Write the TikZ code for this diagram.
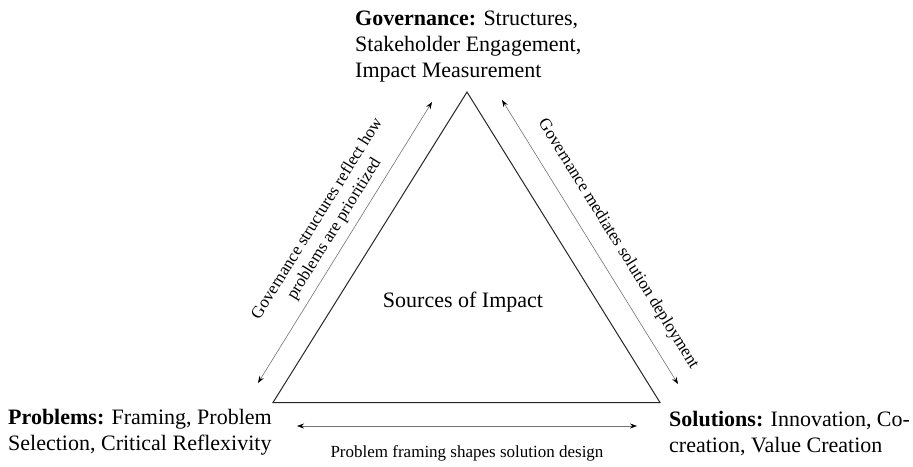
\documentclass[tikz,border=0pt]{standalone}
\usepackage{fontspec}
\setmainfont{Liberation Serif}
\usetikzlibrary{arrows.meta}
\begin{document}
\begin{tikzpicture}[x=1pt,y=-1pt,
  tri/.style={draw=black!85,line width=1pt,line join=miter},
  rel/.style={draw=black!55,line width=0.6pt,{Stealth[length=7pt,width=5pt,black]}-{Stealth[length=7pt,width=5pt,black]}},
  vlabel/.style={font=\fontsize{22}{26}\selectfont,align=left,inner sep=0pt},
  elabel/.style={font=\fontsize{17}{20}\selectfont,align=center,inner sep=0pt}]
\useasboundingbox (0,0) rectangle (913,466);
\coordinate (A) at (467,92);
\coordinate (B) at (273,402.5);
\coordinate (C) at (660,402.5);
\draw[tri] (A) -- (B) -- (C) -- cycle;
\node[font=\fontsize{22}{26}\selectfont,inner sep=0pt,anchor=base] (center) at (463,307) {Sources of Impact};
\node[vlabel,anchor=north west] (gov) at (355,11) {\textbf{Governance:} Structures,\\Stakeholder Engagement,\\Impact Measurement};
\node[vlabel,anchor=north west] (prob) at (8,409) {\textbf{Problems:} Framing, Problem\\Selection, Critical Reflexivity};
\node[vlabel,anchor=north west] (sol) at (669,411) {\textbf{Solutions:} Innovation, Co-\\creation, Value Creation};
\coordinate (l1) at (258,383); \coordinate (l2) at (432,102);
\coordinate (r1) at (502,100); \coordinate (r2) at (678,384);
\coordinate (b1) at (297,426); \coordinate (b2) at (637,426);
\draw[rel] (l1) -- (l2);
\draw[rel] (r1) -- (r2);
\draw[rel] (b1) -- (b2);
\node[elabel,rotate=58.2] (lt) at (326,224) {Governance structures reflect how\\problems are prioritized};
\node[elabel,rotate=-58.2] (rt) at (618,244) {Governance mediates solution deployment};
\node[elabel,anchor=base] (bt) at (467,457) {Problem framing shapes solution design};
\end{tikzpicture}
\end{document}
